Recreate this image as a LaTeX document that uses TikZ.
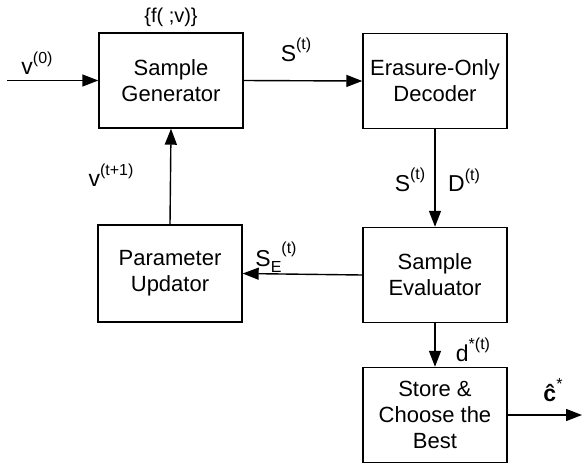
\documentclass[tikz,border=0pt]{standalone}
\usepackage{fontspec}
\setmainfont{Liberation Sans}
\usetikzlibrary{arrows.meta}
\newcommand\mysup[2]{#1\raisebox{0.5em}{\fontsize{16}{16}\selectfont #2}}
\newcommand\mysubsup[3]{#1\raisebox{-0.25em}{\fontsize{16}{16}\selectfont #2}\raisebox{0.55em}{\fontsize{16}{16}\selectfont #3}}
\begin{document}
\begin{tikzpicture}[x=1pt,y=-1pt,
  box/.style={draw, line width=1.4pt, minimum width=144pt, minimum height=95pt, align=center, font=\fontsize{22}{26}\selectfont, inner sep=0pt},
  conn/.style={line width=1.4pt, -{Triangle[length=16pt,width=12pt]}},
  lbl/.style={font=\fontsize{23}{26}\selectfont, inner sep=0pt}]
\useasboundingbox (0,0) rectangle (582,467);
\node[box] (sg) at (171,80.5) {Sample\\Generator};
\node[box] (eod) at (435,81) {Erasure-Only\\Decoder};
\node[box, minimum height=97pt] (pu) at (170,273.5) {Parameter\\Updator};
\node[box] (se) at (435,275) {Sample\\Evaluator};
\node[box] (st) at (435,415) {Store \&\\Choose the\\Best};
\coordinate (in) at (7,80.5);
\coordinate (out) at (582,415);
\draw[conn] (in) -- (sg.west);
\draw[conn] (sg.east) -- (eod.west);
\draw[conn] (eod.south) -- (se.north);
\draw[conn] (se.west) -- (pu.east);
\draw[conn] (pu.north) -- (sg.south);
\draw[conn] (se.south) -- (st.north);
\draw[conn] (st.east) -- (out);
\node[lbl] (l1) at (37,63) {\mysup{v}{(0)}};
\node[lbl, font=\fontsize{20}{22}\selectfont] (l2) at (171,17) {\{f( ;v)\}};
\node[lbl] (l3) at (296,50) {\mysup{S}{(t)}};
\node[lbl] (l4) at (111,175) {\mysup{v}{(t+1)}};
\node[lbl] (l5) at (410,180) {\mysup{S}{(t)}};
\node[lbl] (l6) at (464,180) {\mysup{D}{(t)}};
\node[lbl] (l7) at (276,257) {\mysubsup{S}{E}{(t)}};
\node[lbl] (l8) at (473,350) {\mysup{d}{*(t)}};
\node[lbl] (l9) at (553,390) {\mysup{\textbf{ĉ}}{*}};
\end{tikzpicture}
\end{document}
